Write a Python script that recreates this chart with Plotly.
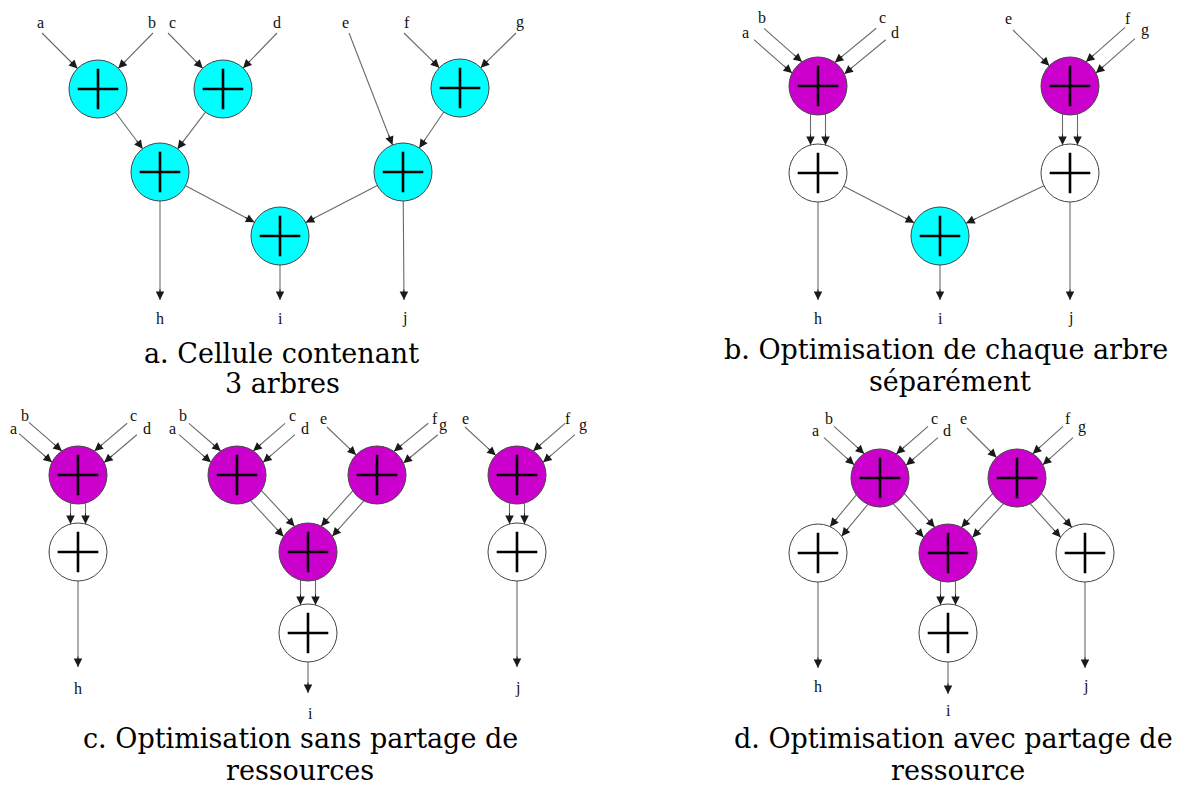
import math
import plotly.graph_objects as go

# ---------------- data (pixel coordinates of the schematic) ----------------
# Operator nodes: name, x, y, kind
node_names = ["A1", "A2", "A3", "A4", "A5", "A6",
              "B1", "B2", "B3", "B4", "B5",
              "C1", "C2", "C3", "C4", "C5", "C6", "C7", "C8",
              "D1", "D2", "D3", "D4", "D5", "D6"]
node_x = [98, 223, 160, 460, 403, 280,
          818, 818, 1070, 1070, 940,
          78, 78, 237, 377, 308, 308, 517, 517,
          880, 1017, 818, 948, 1085, 948]
node_y = [89, 89, 172, 88, 172, 236,
          86, 173, 86, 173, 236,
          475, 552, 475, 475, 552, 633, 475, 552,
          478, 478, 553, 553, 553, 633]
node_kind = ["cyan", "cyan", "cyan", "cyan", "cyan", "cyan",
             "magenta", "white", "magenta", "white", "cyan",
             "magenta", "white", "magenta", "magenta", "magenta", "white", "magenta", "white",
             "magenta", "magenta", "white", "magenta", "white", "white"]

# Terminal points (input tails / output heads)
term_names = ["a_a", "b_a", "c_a", "d_a", "e_a", "f_a", "g_a", "h_a", "i_a", "j_a",
              "ab_b", "cd_b", "e_b", "fg_b", "h_b", "i_b", "j_b",
              "ab_c1", "cd_c1", "ab_c2", "cd_c2", "e_c2", "fg_c2", "e_c3", "fg_c3",
              "h_c", "i_c", "j_c",
              "ab_d", "cd_d", "e_d", "fg_d", "h_d", "i_d", "j_d"]
term_x = [42, 153, 168, 277, 349, 404, 516, 160, 280, 404,
          759, 881, 1013, 1130, 818, 940, 1070,
          24, 132, 184, 290, 327, 433, 465, 570,
          78, 308, 517,
          829, 933, 967, 1068, 818, 948, 1085]
term_y = [33, 33, 33, 33, 33, 33, 33, 300, 300, 300,
          34, 34, 30, 33, 300, 300, 300,
          428, 429, 429, 429, 427, 429, 427, 429,
          667, 693, 667,
          432, 432, 428, 432, 668, 694, 668]

# Edges: source, target, number of parallel wires
edge_src = ["a_a", "b_a", "c_a", "d_a", "f_a", "g_a", "e_a", "A1", "A2", "A4", "A3", "A5", "A3", "A6", "A5",
            "ab_b", "cd_b", "e_b", "fg_b", "B1", "B3", "B2", "B4", "B2", "B5", "B4",
            "ab_c1", "cd_c1", "C1", "C2", "ab_c2", "cd_c2", "e_c2", "fg_c2", "C3", "C4", "C5", "C6",
            "e_c3", "fg_c3", "C7", "C8",
            "ab_d", "cd_d", "e_d", "fg_d", "D1", "D1", "D2", "D2", "D4", "D3", "D6", "D5"]
edge_dst = ["A1", "A1", "A2", "A2", "A4", "A4", "A5", "A3", "A3", "A5", "A6", "A6", "h_a", "i_a", "j_a",
            "B1", "B1", "B3", "B3", "B2", "B4", "B5", "B5", "h_b", "i_b", "j_b",
            "C1", "C1", "C2", "h_c", "C3", "C3", "C4", "C4", "C5", "C5", "C6", "i_c",
            "C7", "C7", "C8", "j_c",
            "D1", "D1", "D2", "D2", "D3", "D4", "D4", "D5", "D6", "h_d", "i_d", "j_d"]
edge_mult = [1, 1, 1, 1, 1, 1, 1, 1, 1, 1, 1, 1, 1, 1, 1,
             2, 2, 1, 2, 2, 2, 1, 1, 1, 1, 1,
             2, 2, 2, 1, 2, 2, 1, 2, 2, 2, 2, 1,
             1, 2, 2, 1,
             2, 2, 1, 2, 2, 2, 2, 2, 2, 1, 1, 1]

# Signal name labels
label_text = ["a", "b", "c", "d", "e", "f", "g", "h", "i", "j",
              "a", "b", "c", "d", "e", "f", "g", "h", "i", "j",
              "a", "b", "c", "d", "a", "b", "c", "d", "e", "f", "g", "e", "f", "g", "h", "i", "j",
              "a", "b", "c", "d", "e", "f", "g", "h", "i", "j"]
label_x = [40, 152, 172, 277, 345, 407, 520, 160, 280, 404,
           745, 762, 882, 895, 1008, 1128, 1145, 818, 940, 1070,
           13, 25, 133, 147, 172, 183, 292, 305, 323, 435, 443, 465, 568, 583, 78, 310, 517,
           815, 829, 934, 947, 963, 1068, 1082, 818, 948, 1085]
label_y = [22, 22, 22, 22, 22, 22, 22, 318, 318, 318,
           32, 17, 17, 32, 18, 18, 30, 318, 318, 318,
           428, 415, 415, 428, 428, 415, 415, 428, 418, 418, 425, 418, 418, 425, 688, 713, 688,
           430, 418, 418, 430, 418, 418, 427, 686, 710, 686]

# Sub-figure captions
caption_text = ["a. Cellule contenant", "3 arbres",
                "b. Optimisation de chaque arbre", "séparément",
                "c. Optimisation sans partage de", "ressources",
                "d. Optimisation avec partage de", "ressource"]
caption_x = [281, 282, 946, 950, 300, 300, 953, 958]
caption_y = [353, 383, 349, 381, 738, 770, 738, 770]

# ---------------- styles ----------------
W, H = 1186, 787
R = 29
WIRE_GAP = 7.5
HEAD_LEN = 12
fill = {"cyan": "#00FFFF", "magenta": "#CC00CC", "white": "#FFFFFF"}

pos = {n: (x, y, True) for n, x, y in zip(node_names, node_x, node_y)}
pos.update({n: (x, y, False) for n, x, y in zip(term_names, term_x, term_y)})

annotations = []
wire_x, wire_y = [], []
for s, d, m in zip(edge_src, edge_dst, edge_mult):
    sx, sy, sn = pos[s]
    dx, dy, dn = pos[d]
    L = math.hypot(dx - sx, dy - sy)
    ux, uy = (dx - sx) / L, (dy - sy) / L
    px, py = -uy, ux
    offs = [0.0] if m == 1 else [-WIRE_GAP, WIRE_GAP]
    for o in offs:
        k = math.sqrt(R * R - o * o)
        tx, ty = sx + o * px, sy + o * py
        hx, hy = dx + o * px, dy + o * py
        if sn:
            tx, ty = tx + ux * k, ty + uy * k
        if dn:
            hx, hy = hx - ux * k, hy - uy * k
        wire_x += [tx, hx, None]
        wire_y += [ty, hy, None]
        annotations.append(dict(x=hx, y=hy, ax=hx - ux * HEAD_LEN, ay=hy - uy * HEAD_LEN,
                                xref="x", yref="y", axref="x", ayref="y",
                                showarrow=True, text="",
                                arrowhead=2, arrowsize=1.7, arrowwidth=1,
                                arrowcolor="#1a1a1a", standoff=0, startstandoff=0))

for t, x, y in zip(label_text, label_x, label_y):
    annotations.append(dict(x=x, y=y, xref="x", yref="y", text=t, showarrow=False,
                            font=dict(family="Liberation Serif", size=16, color="#111111")))

for t, x, y in zip(caption_text, caption_x, caption_y):
    annotations.append(dict(x=x, y=y, xref="x", yref="y", text=t, showarrow=False,
                            font=dict(family="DejaVu Serif", size=27, color="#000000")))

fig = go.Figure()
fig.add_trace(go.Scatter(
    x=wire_x, y=wire_y, mode="lines", hoverinfo="skip",
    line=dict(color="#6a6a6a", width=1.1)))
fig.add_trace(go.Scatter(
    x=node_x, y=node_y, mode="markers", hoverinfo="skip",
    marker=dict(size=2 * R, color=[fill[k] for k in node_kind],
                line=dict(color="#444444", width=1))))
fig.add_trace(go.Scatter(
    x=node_x, y=node_y, mode="markers", hoverinfo="skip",
    marker=dict(symbol="cross-thin", size=29, line=dict(color="#000000", width=2.6))))

fig.update_layout(
    width=W, height=H, margin=dict(l=0, r=0, t=0, b=0),
    paper_bgcolor="white", plot_bgcolor="white", showlegend=False,
    xaxis=dict(range=[0, W], visible=False, fixedrange=True),
    yaxis=dict(range=[H, 0], visible=False, fixedrange=True),
    annotations=annotations)

fig.write_html("out.html", config={"displayModeBar": False},
               post_script="document.body.style.margin='0';")
